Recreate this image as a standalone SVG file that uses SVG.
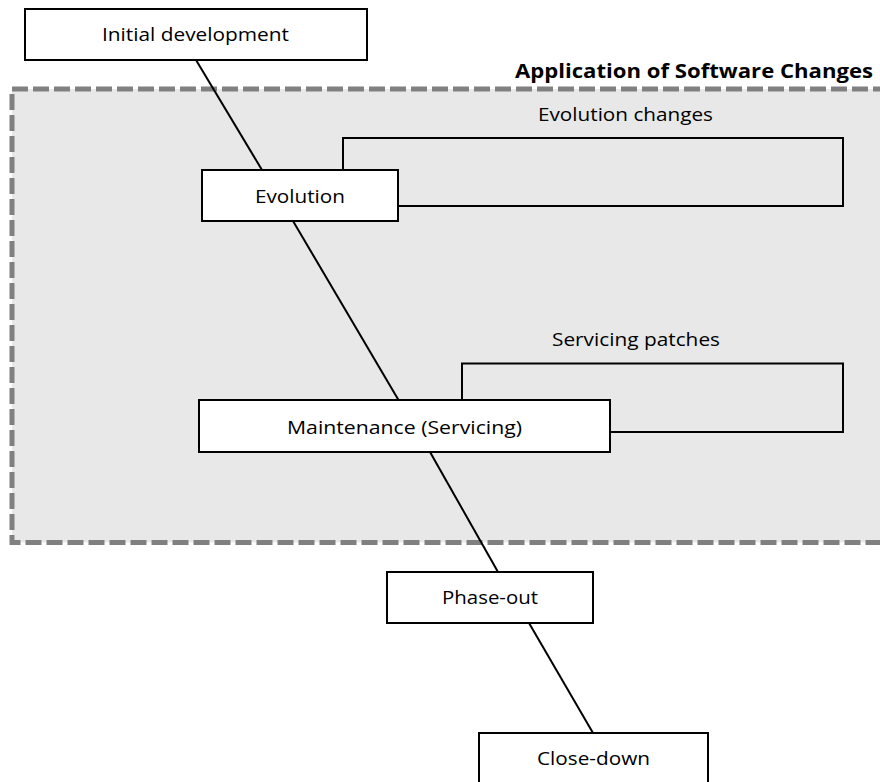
<svg xmlns="http://www.w3.org/2000/svg" width="880" height="782" viewBox="0 0 880 782">
<style>
.box{fill:#fff;stroke:#000;stroke-width:2}
.lbl{font-family:"Open Sans","Liberation Sans",sans-serif;font-size:18px;fill:#000;text-anchor:middle}
.conn{fill:none;stroke:#000;stroke-width:2}
</style>
<rect width="880" height="782" fill="#fff"/>
<g id="region">
<rect x="12" y="89" width="880" height="453.5" fill="#e8e8e8" stroke="#808080" stroke-width="5" stroke-dasharray="16 5"/>
<text x="873" y="78" font-family="Open Sans, Liberation Sans, sans-serif" font-size="19" font-weight="bold" text-anchor="end" textLength="358" lengthAdjust="spacingAndGlyphs">Application of Software Changes</text>
</g>
<g id="connectors">
<line class="conn" x1="196" y1="60" x2="262" y2="170"/>
<line class="conn" x1="293" y1="221" x2="398.5" y2="400"/>
<line class="conn" x1="430" y1="452" x2="498" y2="572"/>
<line class="conn" x1="529" y1="623" x2="593" y2="733"/>
<polyline class="conn" points="343,170 343,138 843,138 843,206 398,206"/>
<text class="lbl" x="625.5" y="121" textLength="175" lengthAdjust="spacingAndGlyphs">Evolution changes</text>
<polyline class="conn" points="462,400 462,363.5 843,363.5 843,432 610,432"/>
<text class="lbl" x="636" y="346" textLength="168" lengthAdjust="spacingAndGlyphs">Servicing patches</text>
</g>
<g id="initial">
<rect class="box" x="25" y="9" width="342" height="51"/>
<text class="lbl" x="195.5" y="41" textLength="187" lengthAdjust="spacingAndGlyphs">Initial development</text>
</g>
<g id="evolution">
<rect class="box" x="202" y="170" width="196" height="51"/>
<text class="lbl" x="300" y="203" textLength="90" lengthAdjust="spacingAndGlyphs">Evolution</text>
</g>
<g id="maintenance">
<rect class="box" x="199" y="400" width="411" height="52"/>
<text class="lbl" x="404.5" y="434" textLength="235" lengthAdjust="spacingAndGlyphs">Maintenance (Servicing)</text>
</g>
<g id="phaseout">
<rect class="box" x="387" y="572" width="206" height="51"/>
<text class="lbl" x="490" y="604" textLength="96" lengthAdjust="spacingAndGlyphs">Phase-out</text>
</g>
<g id="closedown">
<rect class="box" x="479" y="733" width="229" height="52"/>
<text class="lbl" x="593.5" y="765" textLength="113" lengthAdjust="spacingAndGlyphs">Close-down</text>
</g>
</svg>
